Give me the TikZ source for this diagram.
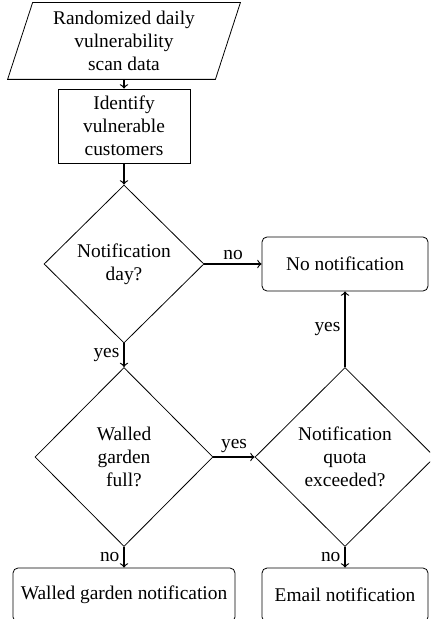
\documentclass[tikz,border=0pt]{standalone}
\usepackage{fontspec}
\setmainfont{Liberation Serif}
\usetikzlibrary{shapes.geometric,calc}
\tikzset{
  txt/.style={font=\fontsize{9.7}{11.6}\selectfont, align=center},
  procbox/.style={txt, draw, rectangle, inner sep=0pt},
  endbox/.style={txt, draw, rectangle, rounded corners=2.5pt, inner sep=0pt},
  decision/.style={txt, draw, diamond, inner sep=0pt, aspect=1},
  arr/.style={->, semithick},
  lbl/.style={txt, inner sep=2pt}
}
\begin{document}
\begin{tikzpicture}[x=0.5pt,y=-0.5pt]
\clip (0,0) rectangle (430,619);
% input data (parallelogram)
\node[txt, minimum width=103.5pt, minimum height=38pt, inner sep=0pt] (data) at (124,41) {Randomized daily\\vulnerability\\scan data};
\draw ($(data.north west)+(6.25pt,0)$) -- ($(data.north east)+(6.25pt,0)$) -- ($(data.south east)+(-6.25pt,0)$) -- ($(data.south west)+(-6.25pt,0)$) -- cycle;
\node[procbox, minimum width=66pt, minimum height=37pt] (ident) at (124,126) {Identify\\vulnerable\\customers};
\node[decision, minimum width=80pt, minimum height=79pt] (d1) at (124,264) {Notification\\day?};
\node[endbox, minimum width=83pt, minimum height=27pt] (nonot) at (345,264) {No notification};
\node[decision, minimum width=89pt, minimum height=89.5pt] (d2) at (124,457) {Walled\\garden\\full?};
\node[decision, minimum width=90pt, minimum height=89.5pt] (d3) at (345,457) {Notification\\quota\\exceeded?};
\node[endbox, minimum width=111pt, minimum height=27pt] (wg) at (124,595) {Walled garden notification};
\node[endbox, minimum width=83pt, minimum height=27pt] (email) at (345,595) {Email notification};
\draw[arr] (data) -- (ident);
\draw[arr] (ident) -- (d1);
\draw[arr] (d1.east) -- (nonot.west) node[lbl, midway, above] {no};
\draw[arr] (d1.south) -- (d2.north) node[lbl, midway, left] {yes};
\draw[arr] (d2.east) -- (d3.west) node[lbl, midway, above] {yes};
\draw[arr] (d3.north) -- (nonot.south) node[lbl, midway, left] {yes};
\draw[arr] (d2.south) -- (wg.north) node[lbl, midway, left] {no};
\draw[arr] (d3.south) -- (email.north) node[lbl, midway, left] {no};
\end{tikzpicture}
\end{document}
